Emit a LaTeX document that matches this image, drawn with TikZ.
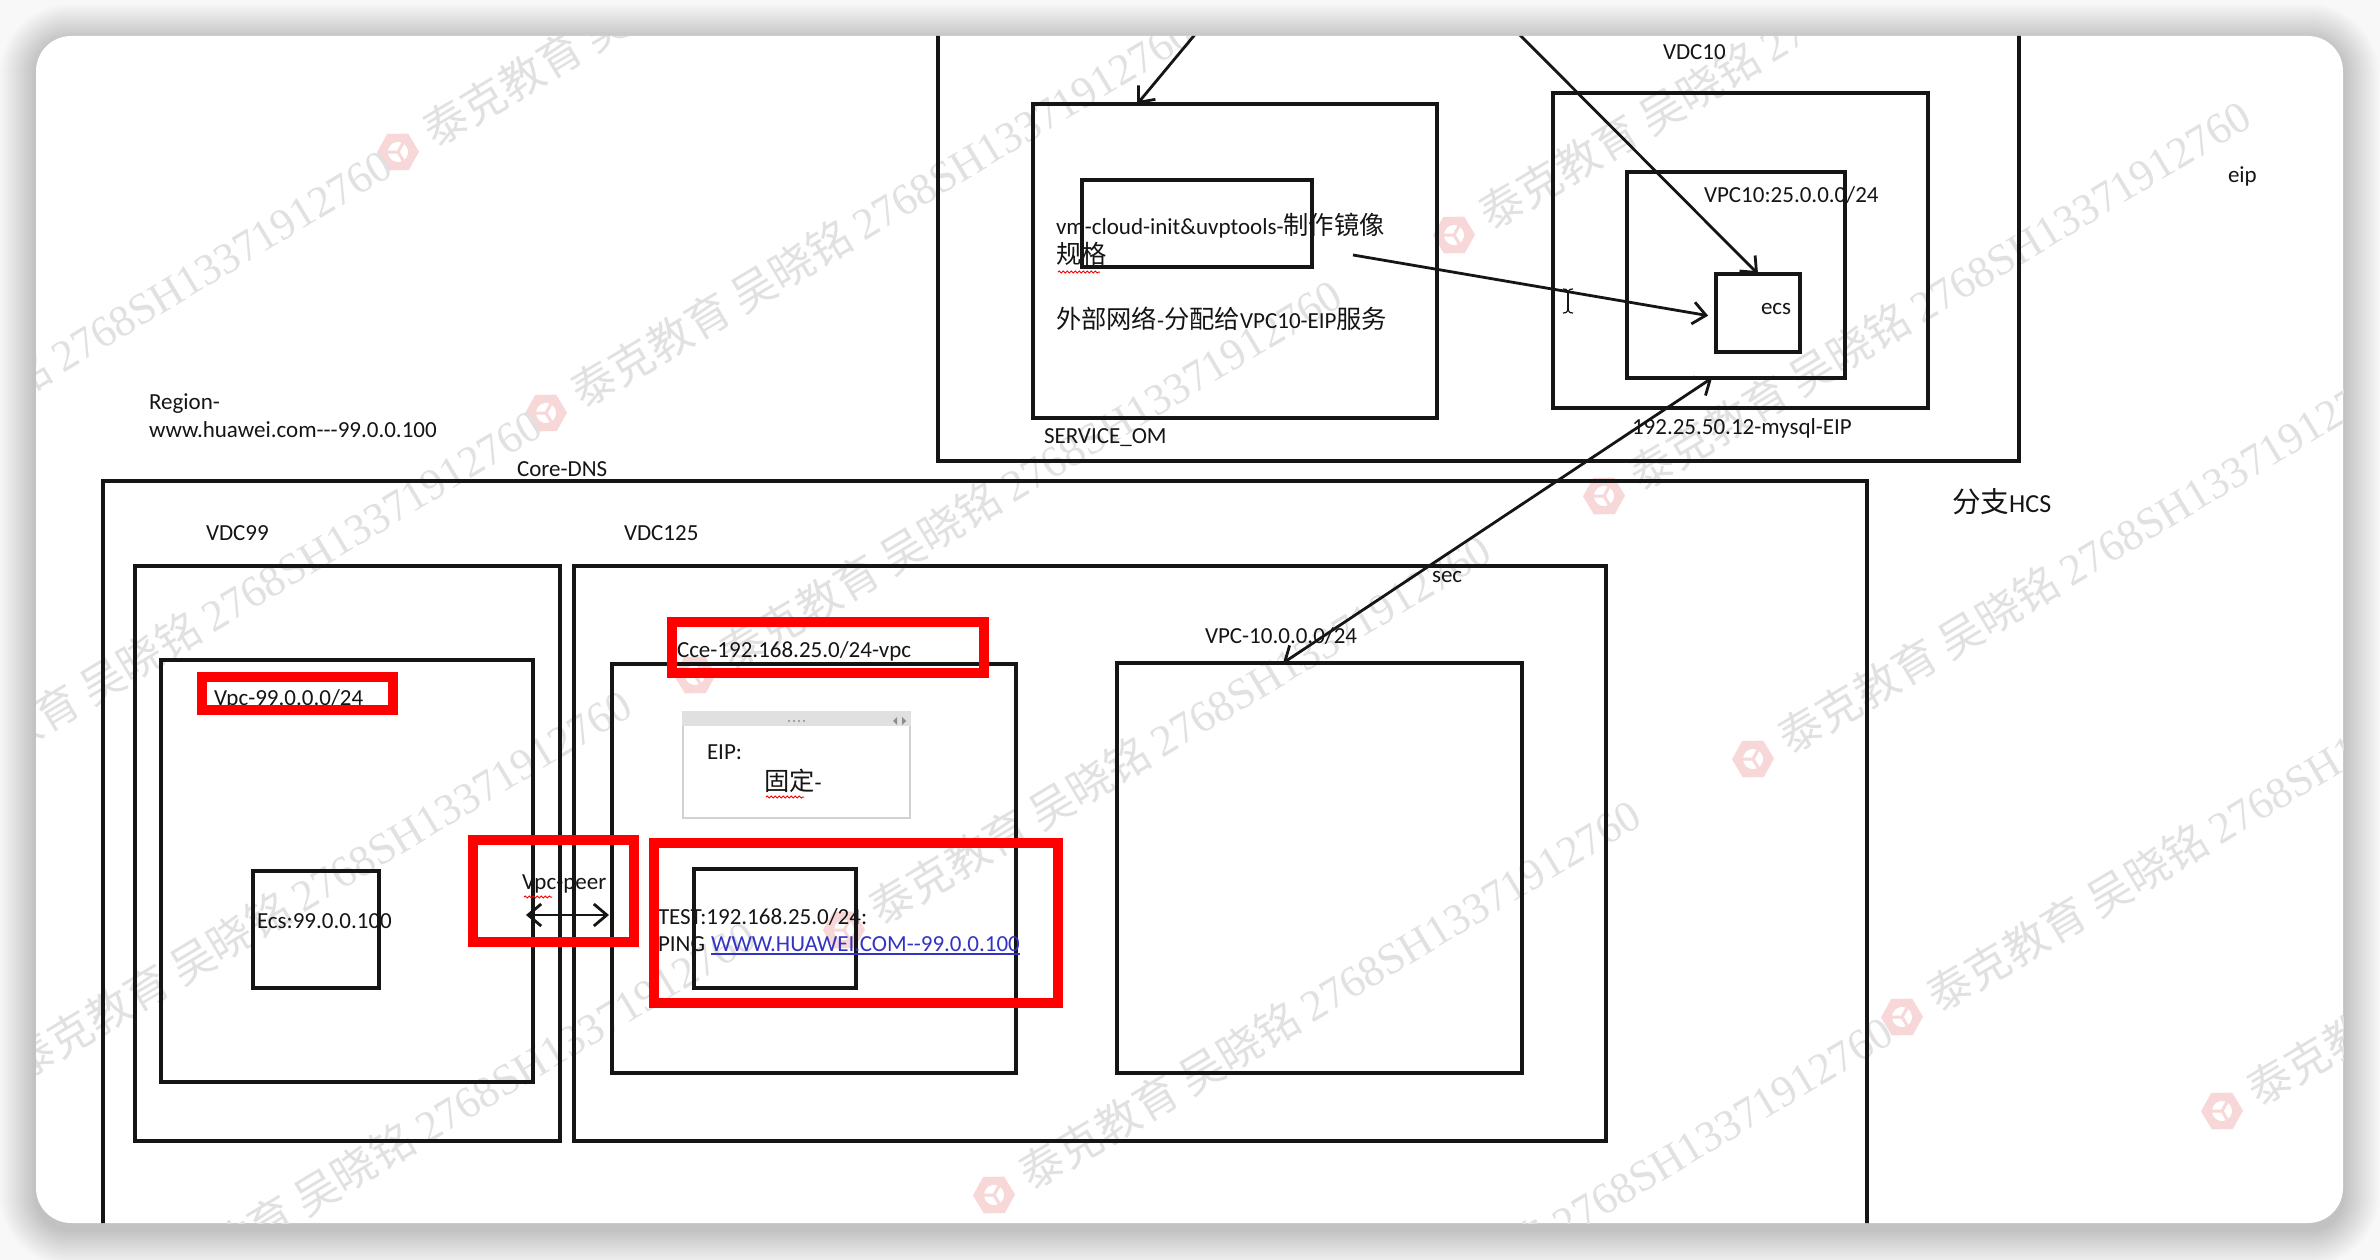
\documentclass[tikz,border=0pt]{standalone}
\usepackage{fontspec}
\setmainfont{Carlito}[Ligatures=TeXOff]
\newfontfamily\cjk{Noto Sans CJK SC}[Scale=1.1]
\newfontfamily\wmcjk{Noto Sans CJK SC}
\newfontfamily\wmserif{Liberation Serif}
\usetikzlibrary{arrows.meta,calc,fit,decorations.pathmorphing}
\definecolor{ink}{HTML}{151515}
\definecolor{linkblue}{HTML}{3434C4}
\definecolor{markred}{HTML}{FF0000}
\definecolor{paper}{HTML}{F8F8F8}
\definecolor{wmgray}{HTML}{E1E1E1}
\definecolor{wmpink}{HTML}{F7D7D7}
% faint diagonal watermark: logo followed by the owner text
\newcommand\wmark[2]{%
  \begin{scope}[shift={(#1,#2)}, rotate=31, transform shape]
    \fill[wmpink] (30:21) -- (90:21) -- (150:21) -- (210:21) -- (270:21) -- (330:21) -- cycle;
    \fill[white] (0,0) circle (10);
    \draw[wmpink, line width=3pt] (0,0) -- (90:10) (0,0) -- (210:10) (0,0) -- (330:10);
    \node[anchor=west, inner sep=0pt, text=wmgray, font=\fontsize{44}{50}\selectfont] at (34,0)
      {\wmcjk 泰克教育 吴晓铭 \wmserif 2768SH13371912760};
  \end{scope}}
\begin{document}
\begin{tikzpicture}[x=1pt,y=-1pt,
  >={Straight Barb[length=13pt,width=22pt]},
  box/.style={draw=ink, line width=3.4pt, inner sep=0pt, outer sep=0pt},
  redbox/.style={draw=markred, line width=10pt, inner sep=0pt, outer sep=0pt},
  lbl/.style={anchor=base west, inner sep=0pt, outer sep=0pt, text=ink, font=\fontsize{23}{28}\selectfont},
  arr/.style={draw=ink, line width=2.8pt, ->},
  darr/.style={draw=ink, line width=2.8pt, <->},
  squiggle/.style={draw=markred, line width=1pt, decorate, decoration={snake, amplitude=1pt, segment length=4pt}}
]
% page and card with soft shadow
\useasboundingbox (0,0) rectangle (2380,1260);
\fill[paper] (0,0) rectangle (2380,1260);
\foreach \i [evaluate=\i as \d using 2*\i, evaluate=\i as \r using 35+2*\i] in {1,...,18}{
  \fill[black, opacity=0.012, rounded corners=\r pt] (36-\d,40-\d) rectangle (2343+\d,1230+\d);
}
\fill[white, rounded corners=35pt] (36,36) rectangle (2343,1223);

\begin{scope}
\clip[rounded corners=35pt] (36,36) rectangle (2343,1223);

% watermark layer
\wmark{398}{152}
\wmark{546}{413}
\wmark{695}{675}
\wmark{844}{930}
\wmark{994}{1195}
\wmark{1454}{235}
\wmark{1604}{496}
\wmark{1753}{759}
\wmark{1902}{1017}
\wmark{2222}{1111}
\wmark{-255}{545}
\wmark{-105}{805}
\wmark{-15}{1085}
\wmark{109}{1316}
\wmark{1246}{1412}

% ---------- upper region: VDC10 ----------
\node[box, fit={(938,-20) (2019,461)}] (top) {};
\node[box, fit={(1033,104) (1437,418)}] (svc) {};
\node[box, fit={(1082,180) (1312,267)}] (init) {};
\node[box, fit={(1553,93) (1928,408)}] (vdc10) {};
\node[box, fit={(1627,172) (1845,378)}] (vpc10) {};
\node[box, fit={(1716,274) (1800,352)}] (ecs) {};

\node[lbl] (tvdc10) at (1663,60) {VDC10};
\node[lbl] (tinit) at (1056,235) {vm-cloud-init\&uvptools-{\cjk 制作镜像}};
\node[lbl] (tspec) at (1056,263) {\cjk 规格};
\draw[squiggle] (1058,272) -- (1100,272);
\node[lbl] (text) at (1056,328) {{\cjk 外部网络}-{\cjk 分配给}VPC10-EIP{\cjk 服务}};
\node[lbl] (tsvc) at (1044,443) {SERVICE\_OM};
\node[lbl] (tvpc10) at (1704,203) {VPC10:25.0.0.0/24};
\node[lbl] (tecs) at (1761,314) {ecs};
\node[lbl] (teip10) at (1632,434) {192.25.50.12-mysql-EIP};

\coordinate (inA) at (1207,20);
\coordinate (inB) at (1505,20);
\coordinate (srcC) at (1353,255);
\draw[arr] (inA) -- ($(svc.north west)!0.258!(svc.north east)$);
\draw[arr] (inB) -- (ecs.north);
\draw[arr, shorten >=8pt] (srcC) -- ([yshift=-4pt]ecs.west);

% text cursor
\draw[ink, line width=1.4pt] (1568,291) -- (1568,311);
\draw[ink, line width=1.2pt] (1563,289) .. controls (1566,289) .. (1568,292) .. controls (1570,289) .. (1573,289);
\draw[ink, line width=1.2pt] (1563,313) .. controls (1566,313) .. (1568,310) .. controls (1570,313) .. (1573,313);

% ---------- side labels ----------
\node[lbl] (teip) at (2228,183) {eip};
\node[lbl, font=\fontsize{26}{30}\selectfont] (thcs) at (1952,512) {{\cjk 分支}HCS};
\node[lbl] (tregion) at (149,409) {Region-};
\node[lbl] (tdns) at (149,437) {www.huawei.com---99.0.0.100};
\node[lbl] (tcore) at (517,476) {Core-DNS};

% ---------- lower region: Core-DNS ----------
\node[box, fit={(103,481) (1867,1300)}] (core) {};
\node[lbl] (tvdc99) at (206,540) {VDC99};
\node[lbl] (tvdc125) at (624,540) {VDC125};
\node[box, fit={(135,566) (560,1141)}] (vdc99) {};
\node[box, fit={(574,566) (1606,1141)}] (vdc125) {};
\node[box, fit={(161,660) (533,1082)}] (vpc99) {};
\node[box, fit={(253,871) (379,988)}] (ecs99) {};
\node[lbl] (tecs99) at (257,928) {Ecs:99.0.0.100};
\node[lbl] (tvpc99) at (214,705) {Vpc-99.0.0.0/24};

\node[box, fit={(612,664) (1016,1073)}] (cce) {};
\node[lbl] (tcce) at (677,657) {Cce-192.168.25.0/24-vpc};

% EIP panel
\node[draw=black!18, line width=2pt, fill=white, inner sep=0pt, fit={(683,712) (910,818)}] (eipwin) {};
\fill[black!12] (eipwin.north west) rectangle ([yshift=-15pt]eipwin.north east);
\foreach \k in {0,1,2,3}{ \fill[black!45] (789+5*\k,721) circle (1.1pt); }
\fill[black!45] (897,717) -- (893,721) -- (897,725) -- cycle;
\fill[black!45] (902,717) -- (906,721) -- (902,725) -- cycle;
\node[lbl] (teipl) at (707,759) {EIP:};
\node[lbl] (tfix) at (764,790) {{\cjk 固定}-};
\draw[squiggle] (766,797) -- (804,797);

\node[box, fit={(694,869) (856,988)}] (testbox) {};
\node[lbl] (ttest) at (658,924) {TEST:192.168.25.0/24:};
\node[lbl] (tping) at (658,951) {PING};
\node[lbl, text=linkblue] (tlink) at ([xshift=6pt]tping.base east) {WWW.HUAWEI.COM--99.0.0.100};
\draw[linkblue, line width=1.5pt] ([yshift=-3pt]tlink.base west) -- ([yshift=-3pt]tlink.base east);

\node[box, fit={(1117,663) (1522,1073)}] (vpc10b) {};
\node[lbl] (tvpc10b) at (1205,643) {VPC-10.0.0.0/24};
\node[lbl] (tsec) at (1432,582) {sec};

% peering
\node[lbl] (tpeer) at (522,889) {Vpc-peer};
\draw[squiggle] (524,897) -- (552,897);
\coordinate (peerL) at (526,915);
\coordinate (peerR) at (609,915);
\draw[darr] (peerL) -- (peerR);

% EIP link between VPC10 and VPC-10.0.0.0/24
\draw[darr] ($(vpc10.south west)!0.39!(vpc10.south east)$) -- ($(vpc10b.north west)!0.41!(vpc10b.north east)$);

% red highlight frames
\node[redbox, fit={(202,677) (393,710)}] (hlvpc) {};
\node[redbox, fit={(672,622) (984,673)}] (hlcce) {};
\node[redbox, fit={(473,840) (634,942)}] (hlpeer) {};
\node[redbox, fit={(654,843) (1058,1003)}] (hltest) {};
\end{scope}
\end{tikzpicture}
\end{document}
